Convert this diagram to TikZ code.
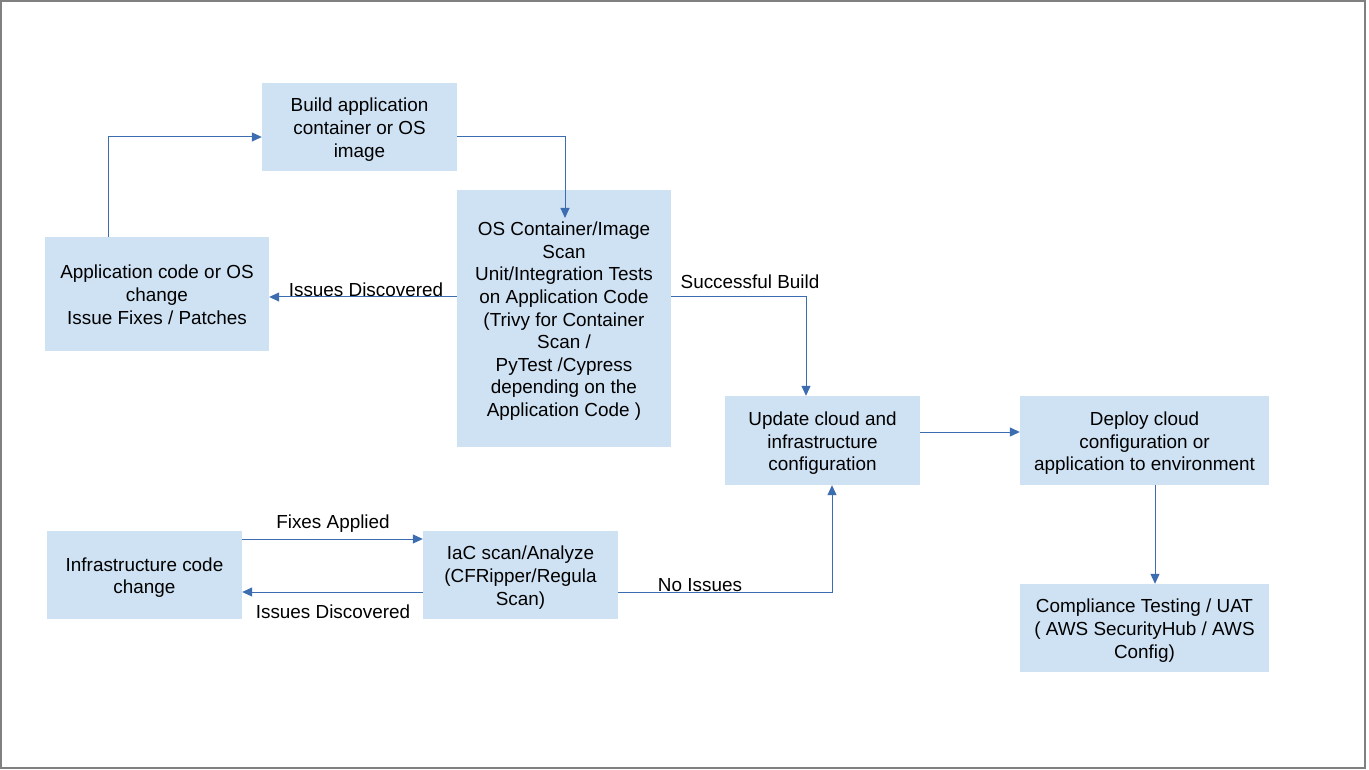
\documentclass[tikz,border=0pt]{standalone}
\usepackage{fontspec}
\setmainfont{Liberation Sans}
\usetikzlibrary{arrows.meta}
\definecolor{boxfill}{HTML}{CFE2F3}
\definecolor{linecol}{HTML}{3C6DB0}
\definecolor{framecol}{HTML}{808080}
\newcommand{\tstr}{\rule{0pt}{19pt}}
\newcommand{\bstr}{\rule[-4pt]{0pt}{0pt}}
\begin{document}
\begin{tikzpicture}[x=1pt,y=-1pt,
  box/.style={fill=boxfill,draw=none,align=center,inner sep=0pt,
    font=\fontsize{18.9}{22.6}\selectfont},
  conn/.style={draw=linecol,line width=1pt,-{Triangle[length=10pt,width=9pt]}},
  lbl/.style={font=\fontsize{18.9}{22.6}\selectfont,inner sep=0pt}]
\useasboundingbox (0,0) rectangle (1369,770);
\fill[white] (0,0) rectangle (1369,770);
\draw[framecol,line width=2pt] (1,1) rectangle (1365,768);
% boxes
\node[box,minimum width=195pt,minimum height=88pt] (build) at (359.5,127) {\tstr Build application\\container or OS\\image\bstr};
\node[box,minimum width=214pt,minimum height=257pt] (scan) at (564,318.5) {\tstr OS Container/Image\\Scan\\Unit/Integration Tests\\on Application Code\\(Trivy for Container\\Scan /\\PyTest /Cypress\\depending on the\\Application Code )\bstr};
\node[box,minimum width=224pt,minimum height=114pt] (app) at (157,294) {\tstr Application code or OS\\change\\Issue Fixes / Patches\bstr};
\node[box,minimum width=195pt,minimum height=89pt] (update) at (822.5,440.5) {\tstr Update cloud and\\infrastructure\\configuration\bstr};
\node[box,minimum width=249pt,minimum height=89pt] (deploy) at (1144.5,440.5) {\tstr Deploy cloud\\configuration or\\application to environment\bstr};
\node[box,minimum width=249pt,minimum height=88pt] (comp) at (1144.5,628) {\tstr Compliance Testing / UAT\\( AWS SecurityHub / AWS\\Config)\bstr};
\node[box,minimum width=195pt,minimum height=88pt] (infra) at (144.5,575) {\tstr Infrastructure code\\change\bstr};
\node[box,minimum width=195pt,minimum height=88pt] (iac) at (520.5,575) {\tstr IaC scan/Analyze\\(CFRipper/Regula\\Scan)\bstr};
% connectors
\draw[conn] (app.north -| 108,0) -- (108,137) -- (build.west |- 0,137);
\coordinate (scanin) at (565,218);
\draw[conn] (build.east |- 0,137) -- (565,137) -- (scanin);
\draw[conn] (scan.west |- 0,297) -- (app.east |- 0,297);
\node[lbl] (lid1) at (366,290) {Issues Discovered};
\draw[conn] (scan.east |- 0,297) -- (806,297) -- (update.north -| 806,0);
\node[lbl] (lsb) at (750,282) {Successful Build};
\draw[conn] (update.east |- 0,432) -- (deploy.west |- 0,432);
\draw[conn] (deploy.south -| 1155,0) -- (comp.north -| 1155,0);
\draw[conn] (infra.east |- 0,539) -- (iac.west |- 0,539);
\node[lbl] (lfa) at (333,524) {Fixes Applied};
\draw[conn] (iac.west |- 0,592) -- (infra.east |- 0,592);
\node[lbl] (lid2) at (333,612) {Issues Discovered};
\draw[conn] (iac.east |- 0,592) -- (832,592) -- (update.south -| 832,0);
\node[lbl] (lni) at (700,585) {No Issues};
\end{tikzpicture}
\end{document}
